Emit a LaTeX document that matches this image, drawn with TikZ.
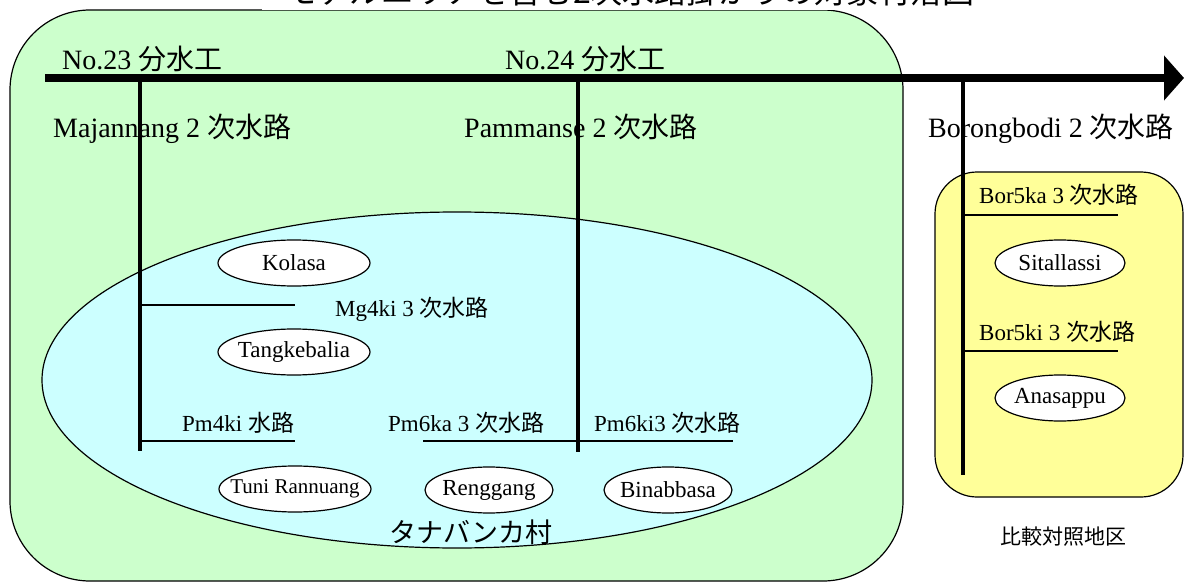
\documentclass[tikz,border=0pt]{standalone}
\usepackage{fontspec}
\setmainfont{Liberation Serif}
\newfontfamily\jp{Noto Sans CJK JP}
\usetikzlibrary{arrows.meta,shapes.geometric}
\definecolor{lgreen}{HTML}{CCFFCC}
\definecolor{lcyan}{HTML}{CCFFFF}
\definecolor{lyellow}{HTML}{FFFF99}
\begin{document}
\begin{tikzpicture}[x=1pt,y=-1pt,
  canal/.style={line width=8pt},
  secline/.style={line width=3.2pt},
  terline/.style={line width=1.8pt},
  area/.style={draw,line width=1.2pt},
  vil/.style={draw,ellipse,fill=white,line width=1.2pt,minimum width=152pt,minimum height=46pt,inner sep=0pt,font=\fontsize{23}{23}\selectfont},
  lab/.style={inner sep=0pt,anchor=base west,font=\fontsize{28}{28}\selectfont},
  slab/.style={inner sep=0pt,anchor=base west,font=\fontsize{23}{23}\selectfont},
]
\useasboundingbox (0,0) rectangle (1184,583);
\clip (0,0) rectangle (1184,583);

% areas
\draw[area,fill=lgreen,rounded corners=80pt] (10,10) rectangle (903,581);
\fill[white] (262,-5) rectangle (990,10.3);
\node[inner sep=0pt,anchor=base west,font=\jp\fontsize{32}{32}\selectfont] (title) at (285,4) {モデルエリアを含む2次水路掛かりの対象村落図};
\draw[area,fill=lcyan] (457,380) ellipse [x radius=415pt, y radius=168pt];
\draw[area,fill=lyellow,rounded corners=42pt] (935,172) rectangle (1183,497);

% coordinates
\coordinate (c0) at (45,78);
\coordinate (c1) at (1184,78);
\coordinate (m0) at (140,78);  \coordinate (m1) at (140,451);
\coordinate (p0) at (578,78);  \coordinate (p1) at (578,452);
\coordinate (b0) at (963,78);  \coordinate (b1) at (963,475);
\coordinate (mg0) at (140,305); \coordinate (mg1) at (295,305);
\coordinate (pm0) at (140,441); \coordinate (pm1) at (295,441);
\coordinate (pa0) at (423,441); \coordinate (pa1) at (578,441);
\coordinate (pi1) at (733,441);
\coordinate (ba0) at (963,215); \coordinate (ba1) at (1118,215);
\coordinate (bi0) at (963,351); \coordinate (bi1) at (1118,351);

% channels
\draw[canal,-{Triangle[length=20pt,width=44pt]}] (c0) -- (c1);
\draw[secline] (m0) -- (m1);
\draw[secline] (p0) -- (p1);
\draw[secline] (b0) -- (b1);
\draw[terline] (mg0) -- (mg1);
\draw[terline] (pm0) -- (pm1);
\draw[terline] (pa0) -- (pa1);
\draw[terline] (pa1) -- (pi1);
\draw[terline] (ba0) -- (ba1);
\draw[terline] (bi0) -- (bi1);

% labels
\node[lab] (n23) at (62,70) {No.23 {\jp 分水工}};
\node[lab] (n24) at (505,70) {No.24 {\jp 分水工}};
\node[lab] (maj) at (53,138) {Majannang 2 {\jp 次水路}};
\node[lab] (pam) at (464,138) {Pammanse 2 {\jp 次水路}};
\node[lab] (bor) at (928,138) {Borongbodi 2 {\jp 次水路}};
\node[slab] (mg4) at (335,316) {Mg4ki 3 {\jp 次水路}};
\node[slab] (pm4) at (182,431) {Pm4ki {\jp 水路}};
\node[slab] (pm6a) at (388,431) {Pm6ka 3 {\jp 次水路}};
\node[slab] (pm6i) at (594,431) {Pm6ki3 {\jp 次水路}};
\node[slab] (b5a) at (979,204) {Bor5ka 3 {\jp 次水路}};
\node[slab] (b5i) at (979,340) {Bor5ki 3 {\jp 次水路}};

% villages
\node[vil] (kol) at (294,263) {\makebox[0pt]{Kolasa}};
\node[vil] (tan) at (294,352) {\makebox[0pt]{Tangkebalia}};
\node[vil] (tun) at (295,489) {\makebox[0pt]{\fontsize{21}{21}\selectfont Tuni Rannuang}};
\node[vil,minimum width=128pt] (ren) at (489,490) {\makebox[0pt]{Renggang}};
\node[vil,minimum width=128pt] (bin) at (668,490) {\makebox[0pt]{Binabbasa}};
\node[vil,minimum width=130pt] (sit) at (1060,263) {\makebox[0pt]{Sitallassi}};
\node[vil,minimum width=130pt] (ana) at (1060,398) {\makebox[0pt]{Anasappu}};

\node[inner sep=0pt,font=\jp\fontsize{27}{27}\selectfont] (tana) at (471,532) {タナバンカ村};
\node[inner sep=0pt,font=\jp\fontsize{21}{21}\selectfont] (hik) at (1063,537) {比較対照地区};
\end{tikzpicture}
\end{document}
